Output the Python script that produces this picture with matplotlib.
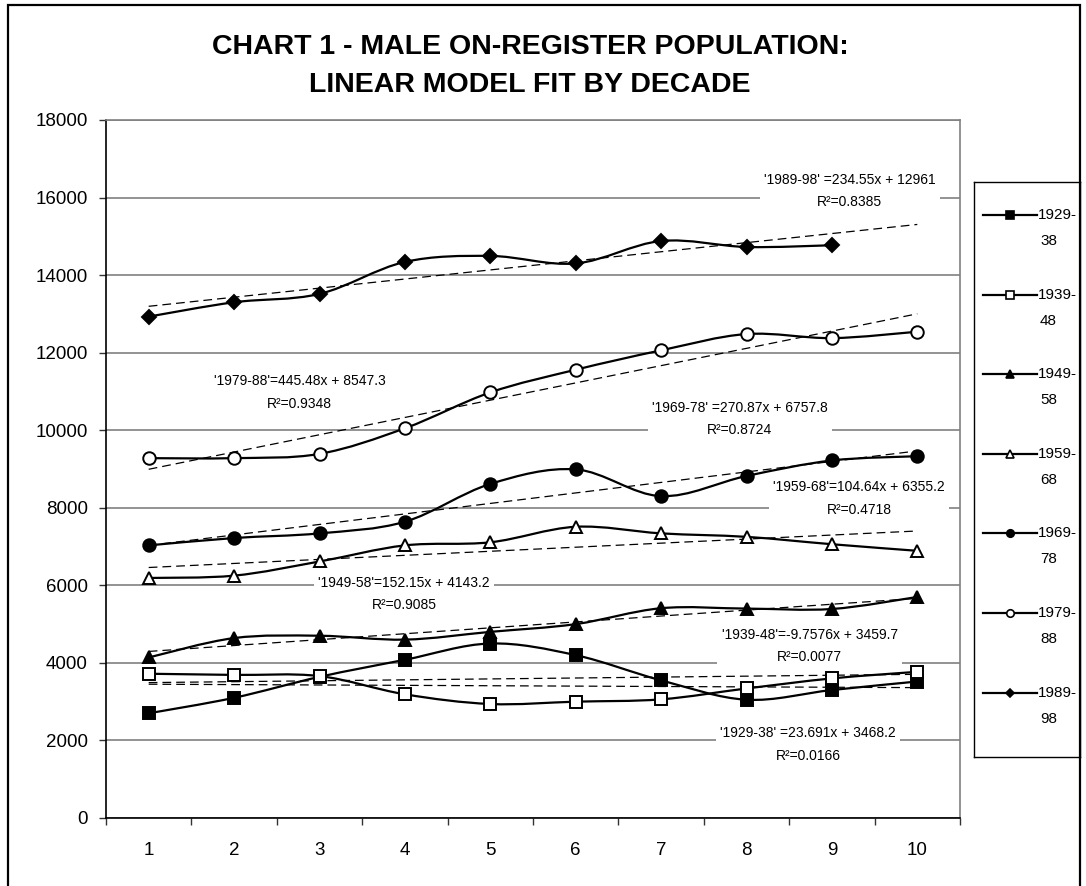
import numpy as np
import matplotlib.pyplot as plt
from matplotlib.path import Path
from matplotlib.patches import PathPatch, Rectangle

plt.rcParams['font.family'] = ['Liberation Sans', 'DejaVu Sans']

# Data
periods = [1, 2, 3, 4, 5, 6, 7, 8, 9, 10]
decades = ['1929-38', '1939-48', '1949-58', '1959-68', '1969-78', '1979-88', '1989-98']
pop_1929 = [2700, 3100, 3640, 4080, 4500, 4200, 3550, 3050, 3300, 3520]
pop_1939 = [3720, 3690, 3660, 3190, 2940, 3000, 3060, 3340, 3600, 3770]
pop_1949 = [4140, 4640, 4700, 4600, 4800, 5000, 5410, 5400, 5390, 5700]
pop_1959 = [6190, 6250, 6615, 7030, 7110, 7510, 7340, 7250, 7060, 6890]
pop_1969 = [7030, 7220, 7340, 7640, 8615, 8990, 8300, 8820, 9220, 9330]
pop_1979 = [9280, 9280, 9390, 10050, 10975, 11560, 12060, 12480, 12375, 12540]
pop_1989 = [12930, 13300, 13515, 14340, 14495, 14300, 14880, 14725, 14770]
series = [pop_1929, pop_1939, pop_1949, pop_1959, pop_1969, pop_1979, pop_1989]

slopes = [23.691, -9.7576, 152.15, 104.64, 270.87, 445.48, 234.55]
intercepts = [3468.2, 3459.7, 4143.2, 6355.2, 6757.8, 8547.3, 12961]
eq_text = ["'1929-38' =23.691x + 3468.2", "'1939-48'=-9.7576x + 3459.7",
           "'1949-58'=152.15x + 4143.2", "'1959-68'=104.64x + 6355.2",
           "'1969-78' =270.87x + 6757.8", "'1979-88'=445.48x + 8547.3",
           "'1989-98' =234.55x + 12961"]
r2_text = ['0.0166', '0.0077', '0.9085', '0.4718', '0.8724', '0.9348', '0.8385']

# styles
markers = ['s', 's', '^', '^', 'o', 'o', 'D']
fills = ['black', 'white', 'black', 'white', 'black', 'white', 'black']
msizes = [9, 9, 9, 9, 9, 9, 7]
label_pos = [(8.72, 1896), (8.74, 4436), (3.99, 5777), (9.32, 8240),
             (7.92, 10290), (2.77, 10974), (9.21, 16170)]


def smooth_path(xs, ys):
    # Excel-like smoothed line (Catmull-Rom as cubic Bezier)
    pts = np.column_stack([xs, ys]).astype(float)
    n = len(pts)
    verts = [pts[0]]
    codes = [Path.MOVETO]
    for i in range(n - 1):
        p0 = pts[max(i - 1, 0)]
        p1 = pts[i]
        p2 = pts[i + 1]
        p3 = pts[min(i + 2, n - 1)]
        c1 = p1 + (p2 - p0) / 6.0
        c2 = p2 - (p3 - p1) / 6.0
        verts += [c1, c2, p2]
        codes += [Path.CURVE4] * 3
    return Path(verts, codes)


fig = plt.figure(figsize=(10.86, 8.86), dpi=100)
W, H = 1086, 886
ax = fig.add_axes([106 / W, 1 - 818 / H, (960 - 106) / W, (818 - 120) / H])

ax.set_xlim(0.5, 10.5)
ax.set_ylim(0, 18000)
ax.set_yticks(range(0, 18001, 2000))
ax.set_xticks(periods)
ax.set_xticks(np.arange(0.5, 11, 1), minor=True)
ax.tick_params(axis='x', which='major', length=0, pad=17, labelsize=13.5)
ax.tick_params(axis='x', which='minor', length=5, width=1, color='#333333')
ax.tick_params(axis='y', length=5, width=1, color='#333333', pad=8, labelsize=13.5)
ax.yaxis.grid(True, color='#808080', linewidth=1.2, zorder=0)
ax.set_axisbelow(True)
for side in ['top', 'right']:
    ax.spines[side].set_color('#808080')
    ax.spines[side].set_linewidth(1.2)
for side in ['left', 'bottom']:
    ax.spines[side].set_color('black')
    ax.spines[side].set_linewidth(1.2)

for i, vals in enumerate(series):
    xs = periods[:len(vals)]
    ax.add_patch(PathPatch(smooth_path(xs, vals), fill=False, edgecolor='black',
                           linewidth=1.6, zorder=3))
    ax.plot(xs, vals, linestyle='none', marker=markers[i], markersize=msizes[i],
            markerfacecolor=fills[i], markeredgecolor='black', markeredgewidth=1.4,
            zorder=4)
    tx = np.array([1, 10])
    ax.plot(tx, slopes[i] * tx + intercepts[i], color='black', linewidth=0.9,
            linestyle=(0, (7, 4)), zorder=2.5)
    ax.text(label_pos[i][0], label_pos[i][1], eq_text[i] + '\nR²=' + r2_text[i],
            ha='center', va='center', multialignment='center', fontsize=10,
            linespacing=1.75, zorder=6,
            bbox=dict(facecolor='white', edgecolor='none', pad=3))

fig.text(530 / W, 1 - 66 / H,
         'CHART 1 - MALE ON-REGISTER POPULATION:\nLINEAR MODEL FIT BY DECADE',
         ha='center', va='center', fontsize=20.5, fontweight='bold', linespacing=1.6)

# legend drawn in its own pixel-space axes
lax = fig.add_axes([974 / W, 1 - 757 / H, (1080 - 974) / W, (757 - 182) / H])
lax.set_xlim(974, 1080)
lax.set_ylim(757, 182)
lax.set_xticks([])
lax.set_yticks([])
for s in lax.spines.values():
    s.set_color('black')
    s.set_linewidth(1.0)
for i, name in enumerate(decades):
    yy = 215 + i * 79.6
    lax.plot([983, 1037], [yy, yy], color='black', linewidth=1.6)
    lax.plot([1010], [yy], marker=markers[i], markersize=msizes[i] * 0.6,
             markerfacecolor=fills[i], markeredgecolor='black', markeredgewidth=1.2)
    a, b = name.split('-')
    lax.text(1038, yy, a + '-', ha='left', va='center', fontsize=11)
    lax.text(1040, yy + 26, b, ha='left', va='center', fontsize=11)

# outer chart frame
fig.patches.append(Rectangle((8 / W, -0.05), (1080 - 8) / W, 1.05 - 5 / H,
                             transform=fig.transFigure, fill=False,
                             edgecolor='black', linewidth=1.6))

fig.savefig('out.png', dpi=100)
